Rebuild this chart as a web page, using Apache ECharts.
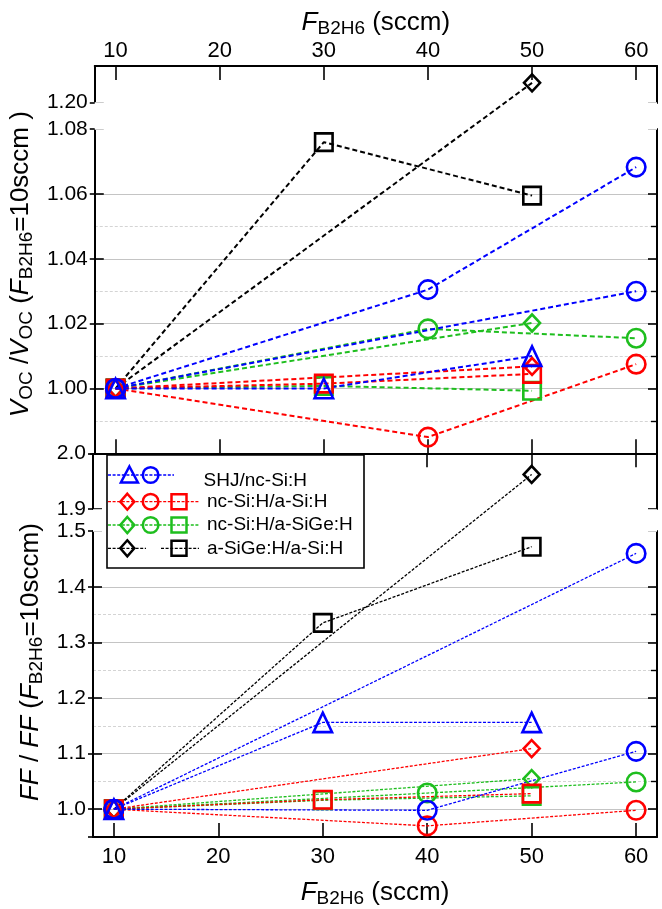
<!DOCTYPE html>
<html><head><meta charset="utf-8">
<script src="https://cdn.jsdelivr.net/npm/echarts@6.0.0/dist/echarts.min.js"></script>
<style>html,body{margin:0;padding:0;background:#fff}#c{width:662px;height:909px}</style>
</head><body><div id="c"></div>
<script>
// ---------- data ----------
const xTicks = [10, 20, 30, 40, 50, 60];
const legendNames = ['SHJ/nc-Si:H', 'nc-Si:H/a-Si:H', 'nc-Si:H/a-SiGe:H', 'a-SiGe:H/a-Si:H'];

// V_OC / V_OC(10 sccm)
const vocBlkDiaX = [10, 50],      vocBlkDiaY = [1.000, 1.206];
const vocBlkSqX  = [10, 30, 50],  vocBlkSqY  = [1.000, 1.076, 1.0595];
const vocGrnDiaX = [10, 50],      vocGrnDiaY = [1.000, 1.0202];
const vocGrnCirX = [10, 40, 60],  vocGrnCirY = [1.000, 1.0184, 1.0155];
const vocGrnSqX  = [10, 30, 50],  vocGrnSqY  = [1.000, 1.0008, 0.9993];
const vocRedSqX  = [10, 30, 50],  vocRedSqY  = [1.000, 1.0015, 1.0045];
const vocRedCirX = [10, 40, 60],  vocRedCirY = [1.000, 0.985, 1.0075];
const vocRedDiaX = [10, 50],      vocRedDiaY = [1.000, 1.0068];
const vocBluCirBX = [10, 60],     vocBluCirBY = [1.000, 1.030];
const vocBluCirAX = [10, 40, 60], vocBluCirAY = [1.000, 1.0305, 1.0683];
const vocBluTriX = [10, 30, 50],  vocBluTriY = [1.000, 1.000, 1.010];

// FF / FF(10 sccm)
const ffBlkDiaX = [10, 50],       ffBlkDiaY = [1.000, 1.962];
const ffBlkSqX  = [10, 30, 50],   ffBlkSqY  = [1.000, 1.335, 1.472];
const ffGrnDiaX = [10, 50],       ffGrnDiaY = [1.000, 1.055];
const ffGrnCirX = [10, 40, 60],   ffGrnCirY = [1.000, 1.029, 1.049];
const ffGrnSqX  = [10, 30, 50],   ffGrnSqY  = [1.000, 1.016, 1.024];
const ffRedSqX  = [10, 30, 50],   ffRedSqY  = [1.000, 1.017, 1.028];
const ffRedCirX = [10, 40, 60],   ffRedCirY = [1.000, 0.970, 0.998];
const ffRedDiaX = [10, 50],       ffRedDiaY = [1.000, 1.109];
const ffBluCirBX = [10, 60],      ffBluCirBY = [1.000, 1.460];
const ffBluCirAX = [10, 40, 60],  ffBluCirAY = [1.000, 0.998, 1.104];
const ffBluTriX = [10, 30, 50],   ffBluTriY = [1.000, 1.156, 1.156];

// ---------- styles ----------
const BLUE = '#0000ff', RED = '#ff0000', GREEN = '#1ebe1e', BLACK = '#000000';
const FONT = 'Liberation Sans';
const symSize = { circle: 18.5, rect: 17.5, triangle: [18.5, 19.5], diamond: [16, 17] };

function mk(name, xs, ys, color, symbol, panel) {
  const data = xs.map((x, i) => [x, ys[i]]);
  return {
    name, type: 'line', data,
    xAxisIndex: panel === 0 ? 0 : 3,
    yAxisIndex: panel === 0 ? 0 : 3,
    symbol, symbolSize: symSize[symbol], showAllSymbol: true,
    itemStyle: { color: 'rgba(0,0,0,0)', borderColor: color, borderWidth: 2.6 },
    lineStyle: panel === 0 ? { color, width: 2, type: [5, 3] } : { color, width: 1.3, type: [3, 1.6] },
    emphasis: { disabled: true }, z: 3
  };
}

const series = [
  mk('vocBlkDia', vocBlkDiaX, vocBlkDiaY, BLACK, 'diamond', 0),
  mk('vocBlkSq', vocBlkSqX, vocBlkSqY, BLACK, 'rect', 0),
  mk('vocGrnDia', vocGrnDiaX, vocGrnDiaY, GREEN, 'diamond', 0),
  mk('vocGrnCir', vocGrnCirX, vocGrnCirY, GREEN, 'circle', 0),
  mk('vocGrnSq', vocGrnSqX, vocGrnSqY, GREEN, 'rect', 0),
  mk('vocRedSq', vocRedSqX, vocRedSqY, RED, 'rect', 0),
  mk('vocRedCir', vocRedCirX, vocRedCirY, RED, 'circle', 0),
  mk('vocRedDia', vocRedDiaX, vocRedDiaY, RED, 'diamond', 0),
  mk('vocBluCirB', vocBluCirBX, vocBluCirBY, BLUE, 'circle', 0),
  mk('vocBluCirA', vocBluCirAX, vocBluCirAY, BLUE, 'circle', 0),
  mk('vocBluTri', vocBluTriX, vocBluTriY, BLUE, 'triangle', 0),
  mk('ffBlkDia', ffBlkDiaX, ffBlkDiaY, BLACK, 'diamond', 1),
  mk('ffBlkSq', ffBlkSqX, ffBlkSqY, BLACK, 'rect', 1),
  mk('ffGrnDia', ffGrnDiaX, ffGrnDiaY, GREEN, 'diamond', 1),
  mk('ffGrnCir', ffGrnCirX, ffGrnCirY, GREEN, 'circle', 1),
  mk('ffGrnSq', ffGrnSqX, ffGrnSqY, GREEN, 'rect', 1),
  mk('ffRedSq', ffRedSqX, ffRedSqY, RED, 'rect', 1),
  mk('ffRedCir', ffRedCirX, ffRedCirY, RED, 'circle', 1),
  mk('ffRedDia', ffRedDiaX, ffRedDiaY, RED, 'diamond', 1),
  mk('ffBluCirB', ffBluCirBX, ffBluCirBY, BLUE, 'circle', 1),
  mk('ffBluCirA', ffBluCirAX, ffBluCirAY, BLUE, 'circle', 1),
  mk('ffBluTri', ffBluTriX, ffBluTriY, BLUE, 'triangle', 1)
];

// ---------- axes ----------
const titleRich = {
  i: { fontSize: 26, fontStyle: 'italic', fontFamily: FONT, color: '#000', lineHeight: 30, verticalAlign: 'middle' },
  n: { fontSize: 26, fontFamily: FONT, color: '#000', lineHeight: 30, verticalAlign: 'middle' },
  s: { fontSize: 19, fontFamily: FONT, color: '#000', lineHeight: 19, verticalAlign: 'bottom', padding: [0, 0, 0, 0] }
};
const xName = '{i|F}{s|B2H6}{n| (sccm)}';

function xAxis(grid, pos, labels) {
  return {
    type: 'value', gridIndex: grid, position: pos, min: 8, max: 62,
    axisLine: { show: true, onZero: false, lineStyle: { color: '#000', width: 2 } },
    axisTick: { show: true, inside: true, length: 14, customValues: xTicks, lineStyle: { color: '#000', width: 1.6 } },
    axisLabel: { show: labels, customValues: xTicks, fontSize: 22, fontFamily: FONT, color: '#000', margin: pos === 'top' ? 4 : 9 },
    splitLine: { show: false },
    name: labels ? xName : '', nameLocation: 'middle', nameGap: labels ? (pos === 'top' ? 28 : 41) : 0,
    nameTextStyle: { rich: titleRich }
  };
}

const vocBreaks = [{ start: 1.08, end: 1.20, gap: 0.0083 }];
const ffBreaks = [{ start: 1.5, end: 1.9, gap: 0.04 }];
const breakArea = { show: true, expandOnClick: false, zigzagAmplitude: 0, zigzagZ: 1, itemStyle: { color: '#fff', borderWidth: 0, opacity: 1 } };

function vocScale() { return { type: 'value', gridIndex: 0, min: 0.98, max: 1.2112, interval: 0.02, breaks: vocBreaks, breakArea }; }
function ffScale() { return { type: 'value', gridIndex: 1, min: 0.95, max: 2.0, minInterval: 0.1, maxInterval: 0.1, breaks: ffBreaks, breakArea }; }

const yName0 = '{i|V}{s|OC}{n| /}{i|V}{s|OC}{n| (}{i|F}{s|B2H6}{n|=10sccm )}';
const yName1 = '{i|FF}{n| / }{i|FF}{n| (}{i|F}{s|B2H6}{n|=10sccm)}';

function leftAxis(scale, fmt, name, gap, pad) {
  return Object.assign(scale, {
    position: 'left',
    axisLine: { show: true, onZero: false, lineStyle: { color: '#000', width: 2 } },
    axisTick: { show: true, inside: true, length: 9, lineStyle: { color: '#000', width: 1.6 } },
    minorTick: { show: false, splitNumber: 2 },
    axisLabel: { fontSize: 21, fontFamily: FONT, color: '#000', margin: 7, formatter: fmt },
    splitLine: { show: true, lineStyle: { color: '#c4c4c4', width: 1.2 } },
    minorSplitLine: { show: true, lineStyle: { color: '#d4d4d4', width: 1, type: [3, 2] } },
    name, nameLocation: 'middle', nameRotate: 90, nameGap: gap,
    nameTextStyle: { rich: titleRich, padding: pad }
  });
}
function rightAxis(scale) {
  return Object.assign(scale, {
    position: 'right',
    axisLine: { show: true, onZero: false, lineStyle: { color: '#000', width: 2 } },
    axisTick: { show: true, inside: true, length: 9, lineStyle: { color: '#000', width: 1.6 } },
    minorTick: { show: true, splitNumber: 2, length: 6, lineStyle: { color: '#000', width: 1.4 } },
    axisLabel: { show: false }, splitLine: { show: false }, minorSplitLine: { show: false }
  });
}
function outerTickAxis(scale) {
  return Object.assign(scale, {
    position: 'left',
    axisLine: { show: false },
    axisTick: { show: true, inside: false, length: 5, lineStyle: { color: '#000', width: 1.6 } },
    axisLabel: { show: false }, splitLine: { show: false }, minorSplitLine: { show: false },
    breakArea: { show: false }
  });
}

const fmtVoc = v => (Math.abs(v - 0.98) < 1e-6 || v > 1.205) ? '' : v.toFixed(2);
const fmtFF = v => (Math.abs(v * 10 - Math.round(v * 10)) > 1e-6) ? '' : v.toFixed(1);

// ---------- legend (graphic) ----------
const LZ = 200;
const LX = [129.4, 150.6, 179];
function gSym(type, cx, cy, color) {
  const style = { fill: 'none', stroke: color, lineWidth: 2.5 };
  if (type === 'circle') return { type: 'circle', z: LZ + 2, shape: { cx, cy, r: 7.8 }, style };
  if (type === 'rect') return { type: 'rect', z: LZ + 2, shape: { x: cx - 7.5, y: cy - 7.5, width: 15, height: 15 }, style };
  if (type === 'triangle') return { type: 'polygon', z: LZ + 2, shape: { points: [[cx, cy - 8.5], [cx + 8.5, cy + 7.5], [cx - 8.5, cy + 7.5]] }, style };
  return { type: 'polygon', z: LZ + 2, shape: { points: [[cx, cy - 8], [cx + 7, cy], [cx, cy + 8], [cx - 7, cy]] }, style };
}
function gLine(x1, x2, y, color) {
  return { type: 'line', z: LZ + 1, shape: { x1, y1: y, x2, y2: y }, style: { stroke: color, lineWidth: 1.3, lineDash: [3, 1.6] } };
}
function gText(t, x, y) {
  return { type: 'text', z: LZ + 2, x, y, style: { text: t, fontSize: 19, fontFamily: FONT, fill: '#000', verticalAlign: 'middle', align: 'left' } };
}
const rows = [475, 501.7, 525, 548.3];
const legendEls = [
  { type: 'rect', z: LZ, shape: { x: 107, y: 455, width: 257, height: 113 }, style: { fill: '#fff', stroke: '#000', lineWidth: 1.6 } },
  gLine(108, 174, rows[0], BLUE), gSym('triangle', LX[0], rows[0], BLUE), gSym('circle', LX[1], rows[0], BLUE),
  gText(legendNames[0], 203.6, rows[0] + 6),
  gLine(108, 199, rows[1], RED), gSym('diamond', 127.3, rows[1], RED), gSym('circle', LX[1], rows[1], RED), gSym('rect', LX[2], rows[1], RED),
  gText(legendNames[1], 207, rows[1]),
  gLine(108, 199, rows[2], GREEN), gSym('diamond', 127.3, rows[2], GREEN), gSym('circle', LX[1], rows[2], GREEN), gSym('rect', LX[2], rows[2], GREEN),
  gText(legendNames[2], 207, rows[2]),
  gLine(108, 146, rows[3], BLACK), gSym('diamond', 127.3, rows[3], BLACK),
  gLine(161, 199, rows[3], BLACK), gSym('rect', LX[2], rows[3], BLACK),
  gText(legendNames[3], 207, rows[3])
];

const option = {
  animation: false,
  backgroundColor: '#fff',
  textStyle: { fontFamily: FONT },
  grid: [
    { left: 93, right: 5, top: 66, height: 387.3 },
    { left: 93, right: 5, top: 453.3, height: 386.9 }
  ],
  xAxis: [xAxis(0, 'top', true), xAxis(0, 'bottom', false), xAxis(1, 'top', false), xAxis(1, 'bottom', true)],
  yAxis: [
    leftAxis(vocScale(), fmtVoc, yName0, 52, [0, 9, 0, 0]),
    rightAxis(vocScale()),
    outerTickAxis(vocScale()),
    leftAxis(ffScale(), fmtFF, yName1, 44, [0, 34, 0, 0]),
    rightAxis(ffScale()),
    outerTickAxis(ffScale())
  ],
  series,
  graphic: { z: LZ, elements: legendEls }
};

const chart = echarts.init(document.getElementById('c'), null, { renderer: 'canvas' });
chart.setOption(option);
</script>
</body></html>
